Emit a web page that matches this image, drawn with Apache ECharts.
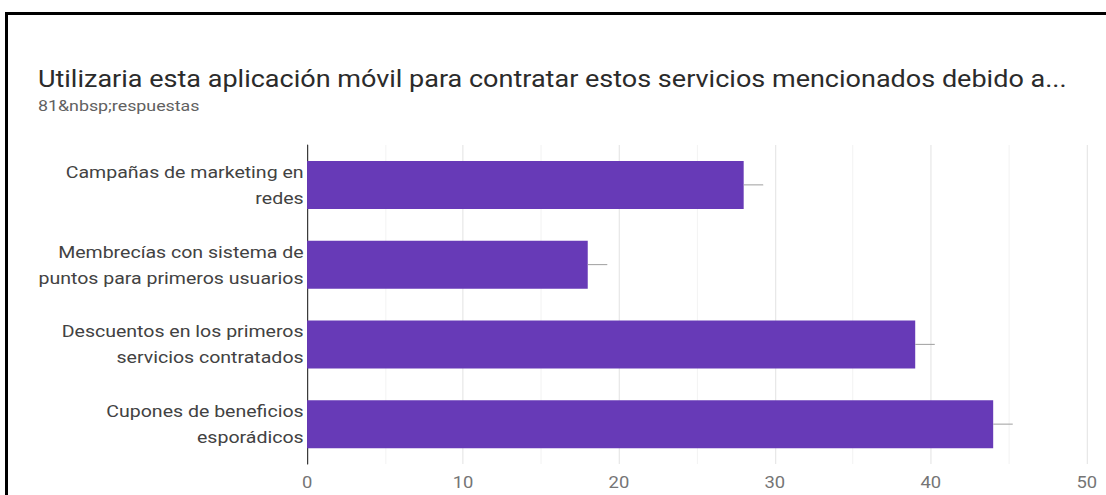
<!DOCTYPE html>
<html>
<head>
<meta charset="utf-8">
<script src="https://cdn.jsdelivr.net/npm/echarts@6/dist/echarts.min.js"></script>
<style>
  html, body { margin: 0; padding: 0; background: #fff; overflow: hidden; }
  #page { position: relative; width: 1106px; height: 495px; overflow: hidden; }
  /* black frame on the top and left edges */
  #frame { position: absolute; left: 5px; top: 12px; right: 0; bottom: -10px;
           border-top: 3px solid #000; border-left: 3px solid #000; pointer-events: none; }
  /* the chart is laid out narrower and widened, giving the wide lettering */
  #chart { position: absolute; left: 0; top: 0; width: 962px; height: 495px;
           transform: scaleX(1.15); transform-origin: 0 0; }
</style>
</head>
<body>
<div id="page">
  <div id="chart"></div>
  <div id="frame"></div>
</div>
<script>
// Survey question and response count
const titleText = 'Utilizaria esta aplicación móvil para contratar estos servicios mencionados debido a...';
const subtitleText = '81&nbsp;respuestas';

// Answer options (top to bottom) and number of respondents choosing each
const categories = [
  'Campañas de marketing en\nredes',
  'Membrecías con sistema de\npuntos para primeros usuarios',
  'Descuentos en los primeros\nservicios contratados',
  'Cupones de beneficios\nesporádicos'
];
const counts = [28, 18, 39, 44];

// Value axis ticks
const axisMin = 0;
const axisMax = 50;
const axisStep = 10;

const chart = echarts.init(document.getElementById('chart'), null, { renderer: 'svg' });

chart.setOption({
  animation: false,
  backgroundColor: '#ffffff',
  title: [
    {
      text: titleText,
      left: 28,
      top: 62,
      textStyle: { fontFamily: 'Roboto', fontSize: 23.5, fontWeight: 'normal', color: '#2b2b2b' }
    },
    {
      text: subtitleText,
      left: 28,
      top: 93,
      textStyle: { fontFamily: 'Roboto', fontSize: 15.5, fontWeight: 'normal', color: '#616161' }
    }
  ],
  grid: { left: 267, right: 17, top: 145, bottom: 31, containLabel: false },
  xAxis: {
    type: 'value',
    min: axisMin,
    max: axisMax,
    interval: axisStep,
    axisLine: { show: false },
    axisTick: { show: false },
    axisLabel: { fontFamily: 'Roboto', fontSize: 16, color: '#757575', margin: 10 },
    splitLine: { show: true, lineStyle: { color: '#e6e6e6', width: 1 } },
    minorTick: { show: false, splitNumber: 2 },
    minorSplitLine: { show: true, lineStyle: { color: '#f4f4f4', width: 1 } }
  },
  yAxis: {
    type: 'category',
    data: categories,
    inverse: true,
    axisLine: { show: true, lineStyle: { color: '#333', width: 1 } },
    axisTick: { show: false },
    splitLine: { show: false },
    axisLabel: {
      fontFamily: 'Roboto',
      fontSize: 17,
      color: '#424242',
      lineHeight: 26,
      align: 'right',
      margin: 3
    }
  },
  series: [
    {
      type: 'bar',
      data: counts,
      barWidth: 48,
      itemStyle: { color: '#673ab7' },
      z: 2
    },
    {
      // short grey stub to the right of each bar end
      type: 'custom',
      data: counts.map((v, i) => [v, i]),
      renderItem: function (params, api) {
        const p = api.coord([api.value(0), api.value(1)]);
        return {
          type: 'line',
          shape: { x1: p[0], y1: p[1], x2: p[0] + 17, y2: p[1] },
          style: { stroke: '#9e9e9e', lineWidth: 1 }
        };
      },
      z: 3,
      silent: true
    }
  ]
});
</script>
</body>
</html>
